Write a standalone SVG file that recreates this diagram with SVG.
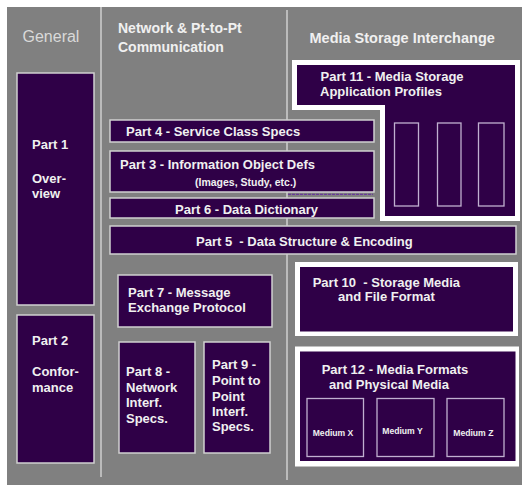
<svg xmlns="http://www.w3.org/2000/svg" width="522" height="485" viewBox="0 0 522 485">
<style>
.bg{fill:#808080}
.div{stroke:#cfcfcf;stroke-width:1.5;fill:none}
.box{fill:#2f0047;stroke:#d0d0d0;stroke-width:1.5}
.frame{fill:#ffffff}
.inner{fill:#2f0047}
.slot{fill:none;stroke:#c0b0d0;stroke-width:1.3}
.t{font-family:"Liberation Sans",Arial,sans-serif;font-weight:bold;font-size:13px;fill:#f0f0f0;white-space:pre}
.h{font-family:"Liberation Sans",Arial,sans-serif;font-weight:bold;font-size:14px;fill:#f0f0f0}
.s{font-size:10.5px}
.m{font-size:8.6px}
</style>
<rect class="bg" x="7" y="7" width="515" height="478"/>
<g id="connectors">
<line class="div" x1="101" y1="7" x2="101" y2="477"/>
<line class="div" x1="287" y1="10" x2="287" y2="480"/>
</g>
<g id="headers">
<text x="22.5" y="41.7" style="font-family:'Liberation Sans',Arial,sans-serif;font-size:16px;fill:#d9d9d9">General</text>
<text class="h" x="118" y="33.3">Network &amp; Pt-to-Pt</text>
<text class="h" x="118" y="51.7">Communication</text>
<text class="h" x="309.5" y="43.3" style="font-size:14.5px">Media Storage Interchange</text>
</g>
<g id="part1">
<rect class="box" x="17" y="73" width="77" height="232"/>
<text class="t" x="32" y="148.5">Part 1</text>
<text class="t" x="32" y="183">Over-</text>
<text class="t" x="32" y="198.3">view</text>
</g>
<g id="part2">
<rect class="box" x="17" y="315" width="77" height="148"/>
<text class="t" x="32" y="344.5">Part 2</text>
<text class="t" x="32" y="376">Confor-</text>
<text class="t" x="32" y="391.5">mance</text>
</g>
<g id="part4">
<rect class="box" x="110" y="120" width="264" height="22"/>
<text class="t" x="126" y="136">Part 4 - Service Class Specs</text>
</g>
<g id="part3">
<rect class="box" x="110" y="151" width="264" height="41"/>
<text class="t" x="120" y="169.3">Part 3 - Information Object Defs</text>
<text class="t s" x="195" y="185.7">(Images, Study, etc.)</text>
<line x1="288" y1="194.3" x2="373" y2="194.3" stroke="#6a3a9a" stroke-width="1.2" stroke-dasharray="3 1"/>
</g>
<g id="part6">
<rect class="box" x="110" y="198" width="264" height="20"/>
<text class="t" x="175" y="214">Part 6 - Data Dictionary</text>
</g>
<g id="part5">
<rect class="box" x="110" y="226" width="406" height="28"/>
<text class="t" x="196" y="245.5">Part 5  - Data Structure &amp; Encoding</text>
</g>
<g id="part11">
<path class="frame" d="M292,60 H520 V221 H380 V110 H292 Z"/>
<path class="inner" d="M297,65 H515 V216 H385 V105 H297 Z"/>
<rect class="slot" x="394.5" y="123" width="24" height="83"/>
<rect class="slot" x="437.5" y="123" width="23.5" height="83"/>
<rect class="slot" x="478.5" y="123" width="25.5" height="83"/>
<text class="t" x="320.5" y="80.7">Part 11 - Media Storage</text>
<text class="t" x="320" y="95.7">Application Profiles</text>
</g>
<g id="part7">
<rect class="box" x="118" y="275" width="154" height="52"/>
<text class="t" x="128" y="296.7">Part 7 - Message</text>
<text class="t" x="128" y="311.5">Exchange Protocol</text>
</g>
<g id="part8">
<rect class="box" x="119" y="342" width="76" height="111"/>
<text class="t" x="126" y="376">Part 8 -</text>
<text class="t" x="126" y="391.5">Network</text>
<text class="t" x="126" y="407">Interf.</text>
<text class="t" x="126" y="422.5">Specs.</text>
</g>
<g id="part9">
<rect class="box" x="204" y="342" width="66" height="111"/>
<text class="t" x="212" y="369.3">Part 9 -</text>
<text class="t" x="212" y="385">Point to</text>
<text class="t" x="212" y="400.5">Point</text>
<text class="t" x="212" y="416">Interf.</text>
<text class="t" x="212" y="431">Specs.</text>
</g>
<g id="part10">
<rect class="frame" x="295" y="262" width="223" height="74"/>
<rect class="inner" x="300" y="267" width="213" height="64.5"/>
<text class="t" x="312.7" y="286.7">Part 10  - Storage Media</text>
<text class="t" x="338" y="301">and File Format</text>
</g>
<g id="part12">
<rect class="frame" x="295" y="346.5" width="224" height="120"/>
<rect class="inner" x="300" y="351.5" width="215.5" height="109.5"/>
<text class="t" x="321.7" y="374">Part 12 - Media Formats</text>
<text class="t" x="329" y="389.3">and Physical Media</text>
</g>
<g id="mediumX">
<rect class="slot" x="307" y="398.5" width="56.5" height="58"/>
<text class="t m" x="312.7" y="435.5">Medium X</text>
</g>
<g id="mediumY">
<rect class="slot" x="377" y="398.5" width="57" height="58"/>
<text class="t m" x="382.3" y="433.5">Medium Y</text>
</g>
<g id="mediumZ">
<rect class="slot" x="447" y="398.5" width="57" height="58"/>
<text class="t m" x="453.3" y="435.5">Medium Z</text>
</g>
</svg>
